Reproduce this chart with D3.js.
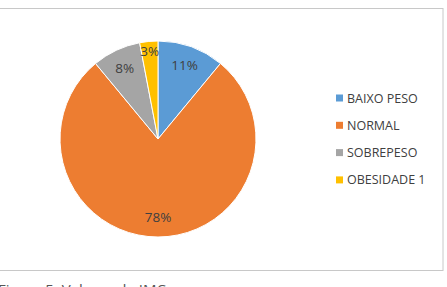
<!DOCTYPE html>
<html>
<head>
<meta charset="utf-8">
<script src="https://cdn.jsdelivr.net/npm/d3@7"></script>
<style>
  body { margin: 0; background: #fff; }
  svg { display: block; }
</style>
</head>
<body>
<div class="chart"></div>
<script>
// chart data
var categories = ["BAIXO PESO", "NORMAL", "SOBREPESO", "OBESIDADE 1"];
var values = [11, 78, 8, 3];
var colors = ["#5b9bd5", "#ed7d31", "#a5a5a5", "#ffc000"];
var caption = "Figura 5: Valores de IMC";

var svgWidth = 447;
var svgHeight = 287;

var svg = d3.select(".chart")
  .append("svg")
  .attr("width", svgWidth)
  .attr("height", svgHeight);

// chart frame
svg.append("rect")
  .attr("x", -1)
  .attr("y", 8.5)
  .attr("width", 444)
  .attr("height", 262)
  .attr("fill", "#fff")
  .attr("stroke", "#c8c8c8")
  .attr("stroke-width", 1);

var radius = 98;
var pieGroup = svg.append("g")
  .attr("transform", "translate(158, 139)");

var pie = d3.pie().sort(null).value(d => d);
var arcs = pie(values);

var arc = d3.arc().innerRadius(0).outerRadius(radius);

pieGroup.selectAll("path")
  .data(arcs)
  .enter()
  .append("path")
  .attr("d", arc)
  .attr("fill", (d, i) => colors[i])
  .attr("stroke", "#fff")
  .attr("stroke-width", 1);

// labels, small slices pushed a bit outward
var labelArc = d3.arc().innerRadius(radius * 0.8).outerRadius(radius * 0.8);
var smallArc = d3.arc().innerRadius(radius * 0.9).outerRadius(radius * 0.9);

pieGroup.selectAll("text")
  .data(arcs)
  .enter()
  .append("text")
  .attr("transform", d => {
    var c = (d.data < 5 ? smallArc : labelArc).centroid(d);
    return `translate(${c[0]}, ${c[1]})`;
  })
  .attr("text-anchor", "middle")
  .attr("dy", "0.35em")
  .attr("font-family", "'Open Sans', sans-serif")
  .attr("font-size", "13.5px")
  .attr("fill", "#404040")
  .text(d => d.data + "%");

// legend
var legend = svg.append("g")
  .attr("transform", "translate(336, 98)");

var rows = legend.selectAll("g")
  .data(categories)
  .enter()
  .append("g")
  .attr("transform", (d, i) => `translate(0, ${i * 27.3})`);

rows.append("rect")
  .attr("x", 0)
  .attr("y", -3.5)
  .attr("width", 7)
  .attr("height", 7)
  .attr("fill", (d, i) => colors[i]);

rows.append("text")
  .attr("x", 11)
  .attr("dy", "0.36em")
  .attr("font-family", "'Open Sans', sans-serif")
  .attr("font-size", "12.5px")
  .attr("fill", "#404040")
  .text(d => d);

// caption below the frame (cut by the page edge, as in the source)
svg.append("text")
  .attr("x", -2)
  .attr("y", 295)
  .attr("font-family", "'Open Sans', sans-serif")
  .attr("font-size", "15px")
  .attr("fill", "#555")
  .text(caption);
</script>
</body>
</html>
